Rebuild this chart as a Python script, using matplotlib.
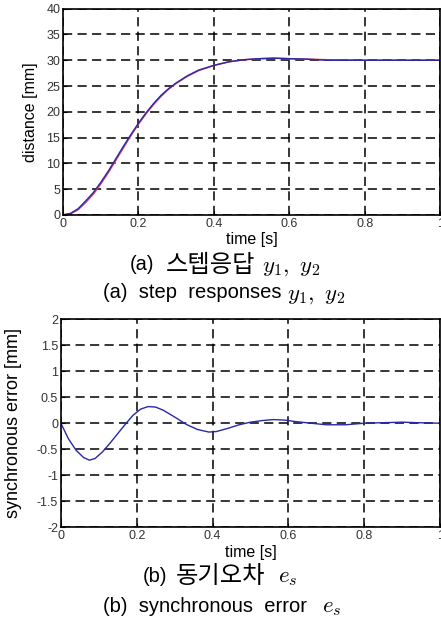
import numpy as np
import matplotlib.pyplot as plt

plt.rcParams['font.family'] = ['Liberation Sans', 'Noto Sans CJK KR', 'DejaVu Sans']
plt.rcParams['mathtext.fontset'] = 'cm'

# step responses y1, y2 (mm)
t_step = [0, 0.02, 0.04, 0.06, 0.08, 0.10, 0.12, 0.14, 0.16, 0.18, 0.20, 0.22, 0.24,
          0.26, 0.28, 0.30, 0.33, 0.36, 0.40, 0.44, 0.48, 0.52, 0.56, 0.60, 0.65, 0.70, 0.80, 1.0]
y1 = [0, 0.2, 1.0, 2.4, 4.0, 6.0, 8.2, 10.6, 13.0, 15.4, 17.6, 19.6, 21.4,
      23.0, 24.4, 25.5, 26.9, 28.0, 29.0, 29.7, 30.1, 30.3, 30.4, 30.3, 30.2, 30.1, 30.0, 30.0]
y2 = [0, 0.3, 1.2, 2.7, 4.3, 6.3, 8.5, 10.9, 13.3, 15.6, 17.8, 19.8, 21.6,
      23.2, 24.5, 25.6, 27.0, 28.1, 29.0, 29.7, 30.1, 30.3, 30.4, 30.3, 30.2, 30.0, 30.0, 30.0]

# synchronous error e_s (mm)
t_err = [0, 0.02, 0.04, 0.06, 0.075, 0.09, 0.11, 0.13, 0.15, 0.17, 0.19, 0.21, 0.23,
         0.25, 0.27, 0.30, 0.33, 0.36, 0.39, 0.41, 0.44, 0.47, 0.50, 0.53, 0.56, 0.59,
         0.62, 0.66, 0.70, 0.75, 0.80, 0.85, 0.90, 0.94, 1.0]
e_s = [0, -0.3, -0.52, -0.66, -0.71, -0.68, -0.55, -0.38, -0.2, -0.02, 0.15, 0.27, 0.32,
       0.31, 0.25, 0.12, -0.02, -0.12, -0.17, -0.16, -0.1, -0.03, 0.02, 0.05, 0.07, 0.06,
       0.03, 0.0, -0.03, -0.03, 0.0, 0.01, 0.02, 0.01, 0.0]

xticks = [0, 0.2, 0.4, 0.6, 0.8, 1]
xticklabels = ['0', '0.2', '0.4', '0.6', '0.8', '1']

fig = plt.figure(figsize=(4.41, 6.21), dpi=100)
ax1 = fig.add_axes([0.143, 0.654, 0.855, 0.332])
ax2 = fig.add_axes([0.138, 0.151, 0.860, 0.335])


def style(ax):
    ax.set_xlim(0, 1)
    ax.set_xticks(xticks)
    ax.set_xticklabels(xticklabels)
    ax.grid(True, color='black', linestyle=(0, (6, 3.5)), linewidth=1.1)
    ax.tick_params(labelsize=9, labelcolor='#333333', length=3, direction='in', pad=2)
    for s in ax.spines.values():
        s.set_linewidth(1.2)
    ax.set_xlabel('time [s]', fontsize=11.5, labelpad=2)


ax1.plot(t_step, y1, color='#e0405a', linewidth=1.1)
ax1.plot(t_step, y2, color='#2828a8', linewidth=1.0)
ax1.set_ylim(0, 40)
ax1.set_yticks(range(0, 41, 5))
style(ax1)
ax1.set_ylabel('distance [mm]', fontsize=11.5, labelpad=6)

ax2.plot(t_err, e_s, color='#2828a8', linewidth=1.0)
ax2.set_ylim(-2, 2)
ax2.set_yticks([-2, -1.5, -1, -0.5, 0, 0.5, 1, 1.5, 2])
ax2.set_yticklabels(['-2', '-1.5', '-1', '-0.5', '0', '0.5', '1', '1.5', '2'])
style(ax2)
ax2.set_ylabel('synchronous error [mm]', fontsize=13, labelpad=11)

lat = dict(va='center', ha='left', fontsize=14.5)
kor = dict(va='center', ha='left', fontsize=17.5, family='Noto Sans CJK KR')
mth = dict(va='center', ha='left', fontsize=16.5)

# (a) captions
fig.text(130 / 441, 1 - 265 / 621, '(a)', **lat)
fig.text(166 / 441, 1 - 265 / 621, '스텝응답', **kor)
fig.text(262 / 441, 1 - 266 / 621, r'$y_1,\ y_2$', **mth)
fig.text(103 / 441, 1 - 293 / 621, '(a)  step  responses', **lat)
fig.text(287 / 441, 1 - 294 / 621, r'$y_1,\ y_2$', **mth)
# (b) captions
fig.text(143 / 441, 1 - 576 / 621, '(b)', **lat)
fig.text(176 / 441, 1 - 576 / 621, '동기오차', **kor)
fig.text(278 / 441, 1 - 577 / 621, '$e_s$', **mth)
fig.text(103 / 441, 1 - 606 / 621, '(b)  synchronous  error', **lat)
fig.text(322 / 441, 1 - 607 / 621, '$e_s$', **mth)

fig.savefig('out.png', dpi=100)
